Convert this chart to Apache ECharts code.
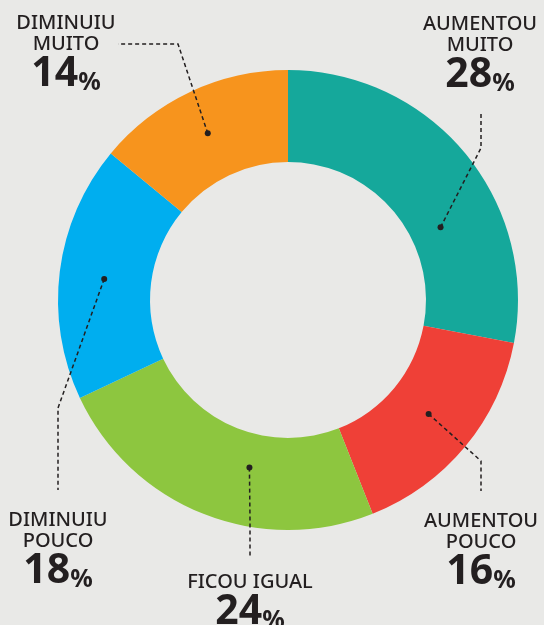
<!DOCTYPE html>
<html>
<head>
<meta charset="utf-8">
<script src="https://cdn.jsdelivr.net/npm/echarts@6/dist/echarts.min.js"></script>
<style>
  html, body { margin: 0; padding: 0; background: #E9E9E7; }
  #chart { width: 544px; height: 625px; }
</style>
</head>
<body>
<div id="chart"></div>
<script>
// Donut of answers, clockwise from 12 o'clock, each with a dashed leader to its label.
const categories = ["AUMENTOU\nMUITO", "AUMENTOU\nPOUCO", "FICOU IGUAL", "DIMINUIU\nPOUCO", "DIMINUIU\nMUITO"];
const values = [28, 16, 24, 18, 14];
const colors = ["#15A89B", "#EF4037", "#8DC63F", "#00AEEF", "#F7941D"];

const CX = 288, CY = 300, R0 = 138, R1 = 230;
const INK = "#231F20";
const FONT = "'Noto Sans', sans-serif";

// layout: label anchor (top-centre), leader bend + end, where the dot sits in its slice
const labelAt = [[480, 14], [481, 511], [250, 572], [58, 510], [66, 13]];
const leader = [
  [[481, 148], [481, 112]],
  [[481, 461], [481, 491]],
  [[250, 520], [250, 558]],
  [[58, 408], [58, 490]],
  [[178, 44], [118, 44]],
];
const dotFrac = [0.64, 0.49, 0.40, 0.49, 0.49];
const dotR = [169, 181, 172, 185, 185];

const total = values.reduce((a, b) => a + b, 0);
let acc = 0;
const dots = values.map((v, i) => {
  const a = (acc + v * dotFrac[i]) / total * 2 * Math.PI;
  acc += v;
  return [CX + dotR[i] * Math.sin(a), CY - dotR[i] * Math.cos(a)];
});

const base = {
  type: "pie",
  center: [CX, CY],
  radius: [R0, R1],
  startAngle: 90,
  clockwise: true,
  avoidLabelOverlap: false,
  silent: true,
};

const chart = echarts.init(document.getElementById("chart"));
chart.setOption({
  backgroundColor: "#E9E9E7",
  animation: false,
  series: [
    // the coloured ring
    Object.assign({}, base, {
      z: 2,
      label: { show: false },
      labelLine: { show: false },
      data: categories.map((c, i) => ({ name: c, value: values[i], itemStyle: { color: colors[i] } })),
    }),
    // invisible copy on top, only to carry labels and leaders over the ring
    Object.assign({}, base, {
      z: 5,
      itemStyle: { color: "rgba(0,0,0,0)" },
      data: categories.map((c, i) => ({ name: c, value: values[i] })),
      label: {
        show: true,
        position: "outer",
        color: INK,
        align: "center",
        formatter: (p) => p.name.split("\n").map((s) => `{n|${s}}`).join("\n") + `\n{p|${p.value}}{s|%}`,
        rich: {
          n: { fontFamily: FONT, fontSize: 20, fontWeight: 500, lineHeight: 21, color: INK, align: "center" },
          p: { fontFamily: FONT, fontSize: 41, fontWeight: "bold", lineHeight: 40, color: INK, verticalAlign: "bottom" },
          s: { fontFamily: FONT, fontSize: 25, fontWeight: "bold", lineHeight: 40, color: INK, verticalAlign: "bottom" },
        },
      },
      labelLine: {
        show: true,
        smooth: false,
        lineStyle: { color: INK, width: 1.5, type: [4, 3] },
      },
      labelLayout: (params) => {
        const i = params.dataIndex;
        return {
          x: labelAt[i][0], y: labelAt[i][1],
          align: "center", verticalAlign: "top",
          labelLinePoints: [dots[i], leader[i][0], leader[i][1]],
        };
      },
    }),
  ],
  graphic: dots.map((d) => ({
    type: "circle", z: 100,
    shape: { cx: d[0], cy: d[1], r: 3 },
    style: { fill: INK },
  })),
});
</script>
</body>
</html>
